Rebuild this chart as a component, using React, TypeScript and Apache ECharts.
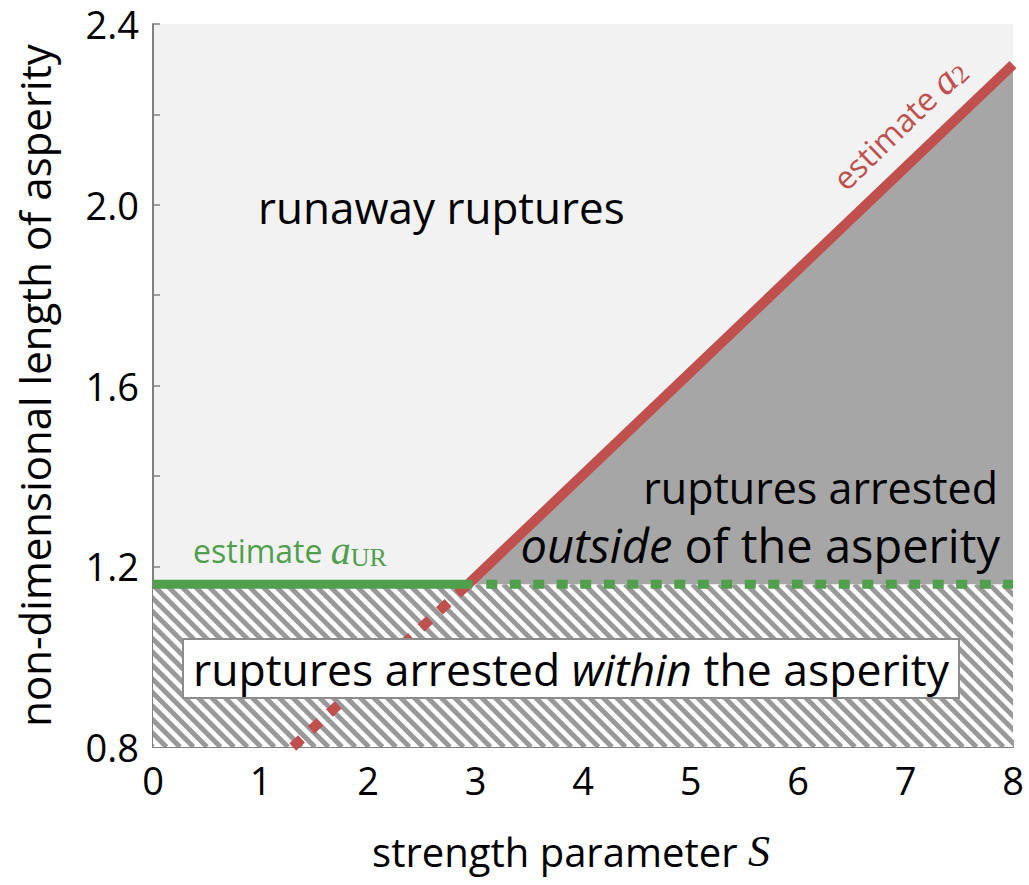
import React, { useEffect, useRef } from "react";
import * as echarts from "echarts";

// ---- data ----
const xRange = [0, 8];
const yRange = [0.8, 2.4];
const xInterval = 1;
const yInterval = 0.4;
const aUR = 1.16;
const greenSolid = [[0, aUR], [2.97, aUR]];
const greenDotted = [[3.1, aUR], [8, aUR]];
const redSolid = [[2.93, aUR], [8, 2.31]];
const redDashed = [[1.3, 0.8], [2.93, aUR]];
const outsideRegion = [[2.93, aUR], [8, 2.31], [8, aUR]];
const withinX = [0, 8];
const withinY = [0.8, aUR];

const FONT = "'Open Sans', Lato, sans-serif";
const SERIF = "'Liberation Serif', 'DejaVu Serif', serif";
const RED = "#c0504d";
const GREEN = "#4f9f4d";
const AXIS = "#808080";

export default function App() {
  const ref = useRef<HTMLDivElement>(null);
  useEffect(() => {
    if (!ref.current) return;
    const chart = echarts.init(ref.current, undefined, { renderer: "svg" });
    const option: any = {
      animation: false,
      grid: {
        left: 153, right: 16, top: 24, bottom: 138,
        show: true, backgroundColor: "#f2f2f2", borderWidth: 0,
      },
      xAxis: {
        type: "value", min: xRange[0], max: xRange[1], interval: xInterval,
        name: "{t|strength parameter }{s|S}",
        nameLocation: "middle", nameGap: 82,
        nameTextStyle: {
          padding: [0, 24, 0, 0],
          rich: {
            t: { fontFamily: FONT, fontSize: 40, color: "#000" },
            s: { fontFamily: SERIF, fontStyle: "italic", fontSize: 44, color: "#000" },
          },
        },
        axisLine: { show: true, lineStyle: { color: AXIS, width: 2 } },
        axisTick: { show: true, inside: true, length: 7, lineStyle: { color: AXIS, width: 1.5 } },
        minorTick: { show: true, splitNumber: 2, length: 7, lineStyle: { color: AXIS, width: 1.5 } },
        splitLine: { show: false },
        axisLabel: { fontFamily: FONT, fontSize: 38, color: "#000", margin: 14 },
      },
      yAxis: {
        type: "value", min: yRange[0], max: yRange[1], interval: yInterval,
        name: "non-dimensional length of asperity",
        nameLocation: "middle", nameGap: 98,
        nameTextStyle: { fontFamily: FONT, fontSize: 42, color: "#000" },
        axisLine: { show: true, lineStyle: { color: AXIS, width: 2 } },
        axisTick: { show: true, inside: true, length: 7, lineStyle: { color: AXIS, width: 1.5 } },
        minorTick: { show: true, splitNumber: 2, length: 7, lineStyle: { color: AXIS, width: 1.5 } },
        splitLine: { show: false },
        axisLabel: {
          fontFamily: FONT, fontSize: 38, color: "#000", margin: 14,
          formatter: (v: number) => v.toFixed(1),
        },
      },
      series: [
        {
          type: "custom", z: 1, clip: true, silent: true,
          data: [[withinX[0], withinY[0]]],
          renderItem: (_p: any, api: any) => {
            const p0 = api.coord([withinX[0], withinY[1]]);
            const p1 = api.coord([withinX[1], withinY[0]]);
            const x0 = p0[0], y0 = p0[1], x1 = p1[0], y1 = p1[1];
            const h = y1 - y0;
            const children: any[] = [
              { type: "rect", shape: { x: x0, y: y0, width: x1 - x0, height: h }, style: { fill: "#ffffff" } },
            ];
            const step = 13.5;
            for (let c = x0 - h - step; c < x1 + step; c += step) {
              children.push({
                type: "line",
                shape: { x1: c, y1: y0, x2: c + h, y2: y1 },
                style: { stroke: "#999999", lineWidth: 5 },
              });
            }
            return {
              type: "group",
              children,
              clipPath: { type: "rect", shape: { x: x0, y: y0, width: x1 - x0, height: h } },
            };
          },
        },
        {
          type: "custom", z: 1, silent: true,
          data: [outsideRegion[0]],
          renderItem: (_p: any, api: any) => ({
            type: "polygon",
            shape: { points: outsideRegion.map((p) => api.coord(p)) },
            style: { fill: "#a6a6a6" },
          }),
        },
        {
          type: "line", z: 3, data: redDashed, showSymbol: false, symbol: "none",
          lineStyle: { color: RED, width: 10, type: [12, 13] },
        },
        {
          type: "line", z: 3, data: redSolid, showSymbol: false, symbol: "none",
          lineStyle: { color: RED, width: 10 },
        },
        {
          type: "line", z: 4, data: greenSolid, showSymbol: false, symbol: "none",
          lineStyle: { color: GREEN, width: 9 },
        },
        {
          type: "line", z: 4, data: greenDotted, showSymbol: false, symbol: "none",
          lineStyle: { color: GREEN, width: 9, type: [11, 12.5] },
        },
      ],
      graphic: [
        {
          type: "rect", z: 100,
          shape: { x: 183, y: 639, width: 776, height: 59 },
          style: { fill: "#ffffff", stroke: "#8c8c8c", lineWidth: 2 },
        },
        {
          type: "text", z: 101, x: 571, y: 668,
          style: {
            text: "{n|ruptures arrested }{i|within}{n| the asperity}",
            align: "center", verticalAlign: "middle",
            rich: {
              n: { fontFamily: FONT, fontSize: 44.5, fill: "#000" },
              i: { fontFamily: FONT, fontSize: 44.5, fontStyle: "italic", fill: "#000" },
            },
          },
        },
        {
          type: "text", z: 101, x: 258, y: 207,
          style: {
            text: "runaway ruptures", fontFamily: FONT, fontSize: 44, fill: "#000",
            align: "left", verticalAlign: "middle",
          },
        },
        {
          type: "text", z: 101, x: 998, y: 487,
          style: {
            text: "ruptures arrested", fontFamily: FONT, fontSize: 43, fill: "#000",
            align: "right", verticalAlign: "middle",
          },
        },
        {
          type: "text", z: 101, x: 1000, y: 545,
          style: {
            text: "{i|outside}{n| of the asperity}",
            align: "right", verticalAlign: "middle",
            rich: {
              n: { fontFamily: FONT, fontSize: 47, fill: "#000" },
              i: { fontFamily: FONT, fontSize: 47, fontStyle: "italic", fill: "#000" },
            },
          },
        },
        {
          type: "text", z: 101, x: 193, y: 550,
          style: {
            text: "{t|estimate }{a|a}{s|UR}",
            align: "left", verticalAlign: "middle",
            rich: {
              t: { fontFamily: FONT, fontSize: 32, fill: GREEN, lineHeight: 40 },
              a: { fontFamily: SERIF, fontStyle: "italic", fontSize: 40, fill: GREEN, lineHeight: 40 },
              s: { fontFamily: SERIF, fontSize: 26, fill: GREEN, lineHeight: 26, verticalAlign: "bottom" },
            },
          },
        },
        {
          type: "text", z: 101, x: 899, y: 124, rotation: 0.77,
          style: {
            text: "{t|estimate }{a|a}{s|2}",
            align: "center", verticalAlign: "middle",
            rich: {
              t: { fontFamily: FONT, fontSize: 32, fill: RED, lineHeight: 40 },
              a: { fontFamily: SERIF, fontStyle: "italic", fontSize: 40, fill: RED, lineHeight: 40 },
              s: { fontFamily: SERIF, fontSize: 26, fill: RED, lineHeight: 26, verticalAlign: "bottom" },
            },
          },
        },
      ],
    };
    chart.setOption(option);
    return () => chart.dispose();
  }, []);
  return (
    <div
      ref={ref}
      style={{ position: "absolute", left: 0, top: 0, width: 1029, height: 885, background: "#fff" }}
    />
  );
}
